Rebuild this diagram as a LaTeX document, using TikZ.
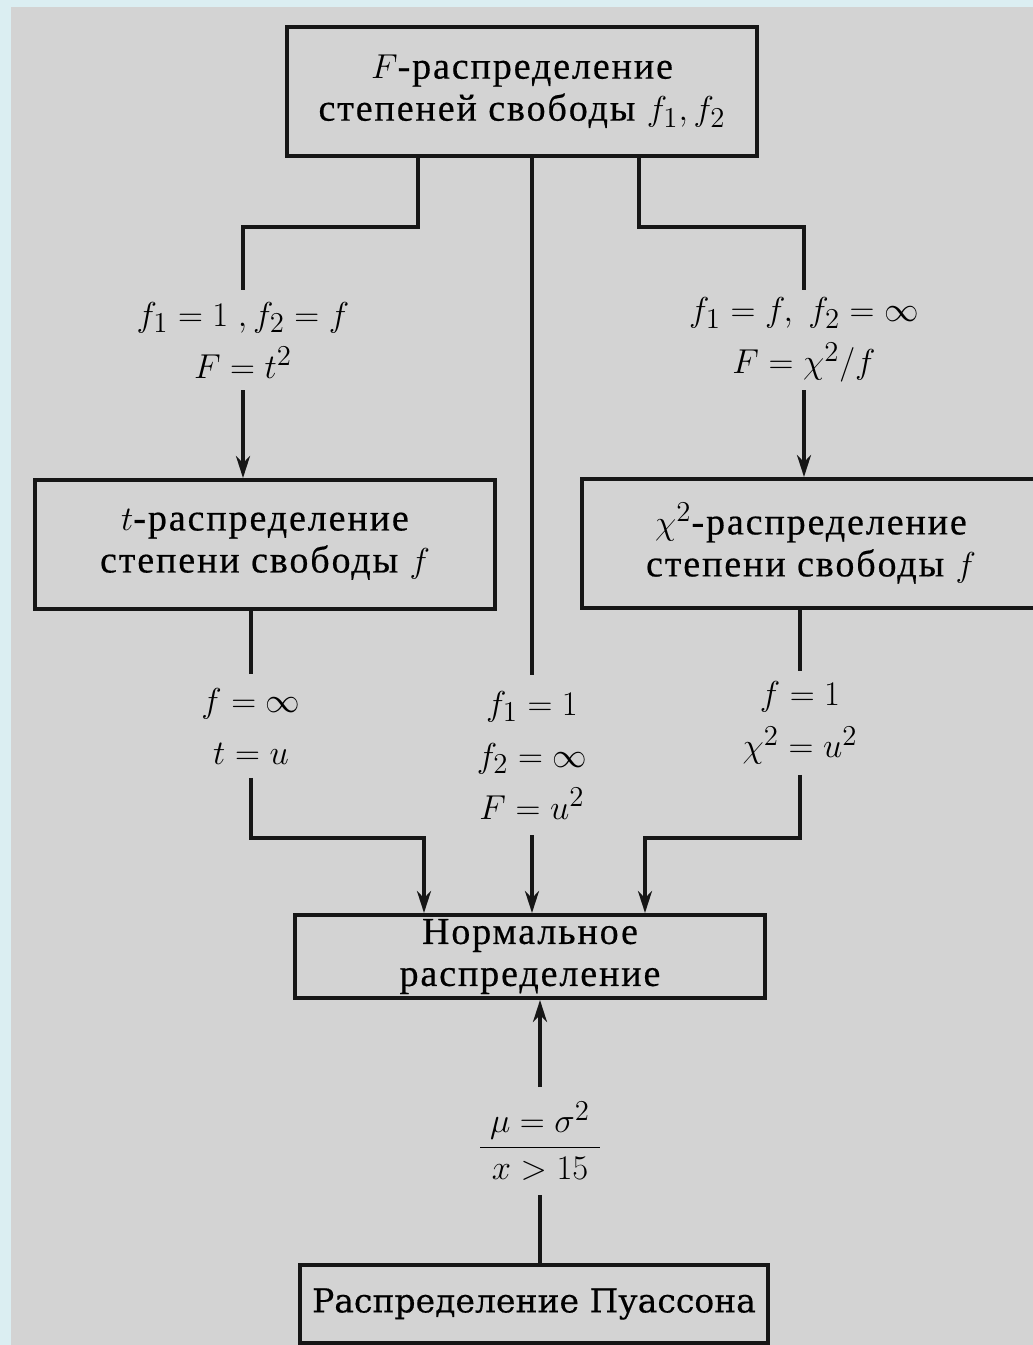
\documentclass[tikz,border=0pt]{standalone}
\usepackage{amsmath}
\usepackage{fontspec}
\setmainfont{Liberation Serif}
\newfontfamily\boxfamily[LetterSpace=5, FakeBold=0.5]{Liberation Serif}
\newfontfamily\poissonfont[FakeBold=0.4]{DejaVu Serif}
\usetikzlibrary{arrows.meta, positioning}
\definecolor{pagegray}{RGB}{211,211,211}
\definecolor{edgeblue}{RGB}{219,238,242}
\definecolor{inkblack}{RGB}{22,22,22}
\newcommand{\boxtextfont}{\boxfamily\fontsize{19}{21}\selectfont}
\newcommand{\condfont}{\fontsize{19}{26}\selectfont}

\begin{document}
\begin{tikzpicture}[
    x=0.5pt, y=-0.5pt,
    box/.style={rectangle, draw=inkblack, line width=2pt, align=center, inner sep=0pt, font=\boxtextfont},
    cond/.style={rectangle, align=center, inner sep=0pt, font=\condfont},
    line/.style={draw=inkblack, line width=2pt},
    arrow/.style={line, -{Stealth[length=11pt,width=7pt]}}
]
% Page
\useasboundingbox (0,0) rectangle (1033,1345);
\fill[edgeblue] (0,0) rectangle (1033,1345);
\fill[pagegray] (11,7) rectangle (1033,1345);

% Distributions
\node[box, minimum width=235pt, minimum height=64.5pt] (Fbox) at (522,91.5) {$F$-распределение\\степеней свободы $f_1, f_2$};
\node[box, minimum width=230pt, minimum height=64.5pt] (tbox) at (265,544.5) {$t$-распределение\\степени свободы $f$};
\node[box, minimum width=229pt, minimum height=64.5pt] (cbox) at (811,543.5) {$\chi^2$-распределение\\степени свободы $f$};
\node[box, minimum width=235pt, minimum height=41.5pt] (nbox) at (530,956.5) {Нормальное\\распределение};
\node[box, minimum width=234pt, minimum height=39pt, font=\poissonfont\fontsize{16.5}{18}\selectfont] (pbox) at (534,1304) {Распределение Пуассона};

% Conditions
\node[cond, minimum height=50pt] (labL) at (243,340) {$f_1 = 1\;, f_2 = f$\\$F = t^2$};
\node[cond, minimum height=50pt] (labR) at (804,340) {$f_1 = f,\; f_2 = \infty$\\$F = \chi^2/f$};
\node[cond, minimum height=51.5pt] (labTL) at (251,726) {$f = \infty$\\$t = u$};
\node[cond, minimum height=80pt] (labM) at (532,755) {$f_1 = 1$\\$f_2 = \infty$\\$F = u^2$};
\node[cond, minimum height=51.5pt] (labCR) at (800,723) {$f = 1$\\$\chi^2 = u^2$};
\node[cond, minimum height=53.5pt] (labP) at (540,1141) {$\dfrac{\;\mu = \sigma^2\;}{x > 15}$};

% Bends
\coordinate (b1) at (418,227);
\coordinate (b2) at (639,227);
\coordinate (b3) at (424,838);
\coordinate (b4) at (645,838);

% Connectors
\draw[line] (Fbox.south -| b1) -- (b1) -| (labL.north);
\draw[line] (Fbox.south -| b2) -- (b2) -| (labR.north);
\draw[line] (Fbox.south -| labM) -- (labM.north);
\draw[arrow] (labL.south) -- (tbox.north -| labL);
\draw[arrow] (labR.south) -- (cbox.north -| labR);
\draw[line] (tbox.south -| labTL) -- (labTL.north);
\draw[line] (cbox.south -| labCR) -- (labCR.north);
\draw[arrow] (labTL.south) |- (b3) -- (nbox.north -| b3);
\draw[arrow] (labM.south) -- (nbox.north -| labM);
\draw[arrow] (labCR.south) |- (b4) -- (nbox.north -| b4);
\draw[arrow] (labP.north) -- (nbox.south -| labP);
\draw[line] (pbox.north -| labP) -- (labP.south);
\end{tikzpicture}
\end{document}
